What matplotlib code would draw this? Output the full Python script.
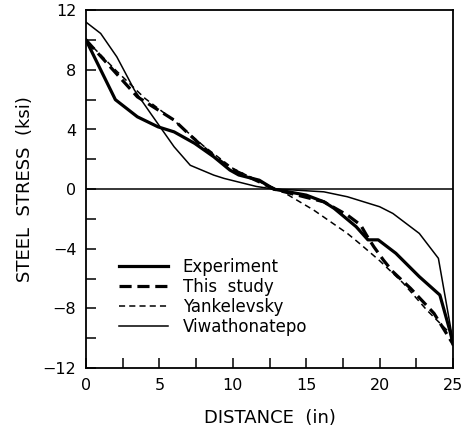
import matplotlib
matplotlib.use("Agg")
from matplotlib import pyplot as plt

# distance (in) / steel stress (ksi)
exp_x = [0, 2, 3.5, 4.9, 6, 7.4, 8.7, 9.8, 10.4, 11.8, 12.8, 15, 16.2, 16.9, 18.4, 19.2, 19.9, 21.1, 22.7, 24.1, 24.8, 25]
exp_y = [10, 6.0, 4.85, 4.18, 3.84, 3.07, 2.17, 1.28, 0.95, 0.6, 0.0, -0.4, -0.85, -1.29, -2.52, -3.4, -3.4, -4.3, -5.87, -7.1, -9.56, -10.4]

study_x = [0, 3.5, 6, 7, 8, 9, 10, 11, 12, 12.8, 14, 15, 16.2, 17.8, 18.7, 19.1, 19.6, 20.25, 20.9, 22.1, 23.7, 25]
study_y = [10, 6.19, 4.63, 3.7, 2.8, 2.0, 1.3, 0.85, 0.4, 0.0, -0.3, -0.55, -0.85, -1.74, -2.4, -3.08, -3.86, -4.75, -5.54, -6.65, -8.33, -10.4]

yank_x = [0, 2, 4, 6, 8, 10, 12, 13.2, 15.5, 17.8, 18.7, 20, 21.6, 23.2, 24.8, 25]
yank_y = [10, 8.0, 6.1, 4.6, 2.9, 1.4, 0.4, -0.06, -1.4, -2.97, -3.7, -4.8, -6.3, -8.1, -9.67, -10.4]

viw_x = [0, 1, 2.1, 3.3, 4.4, 6, 7.1, 8.7, 9.4, 11.6, 12.8, 14, 16.2, 17.8, 20, 20.9, 22.7, 24, 24.9, 25]
viw_y = [11.2, 10.44, 8.87, 6.64, 5.08, 2.84, 1.6, 0.94, 0.72, 0.18, 0.0, -0.05, -0.18, -0.51, -1.18, -1.63, -2.97, -4.64, -9.67, -10.4]

fig = plt.figure(figsize=(4.7, 4.44), dpi=100)
ax = fig.add_axes([0.183, 0.171, 0.781, 0.806])

ax.axhline(0, color='k', lw=1.1)
ax.plot(exp_x, exp_y, 'k-', lw=2.3, label='Experiment')
ax.plot(study_x, study_y, 'k', lw=2.3, dashes=(3.8, 1.8), label='This  study')
ax.plot(yank_x, yank_y, 'k', lw=1.1, dashes=(4, 2.7), label='Yankelevsky')
ax.plot(viw_x, viw_y, 'k-', lw=1.1, label='Viwathonatepo')

ax.set_xlim(0, 25)
ax.set_ylim(-12, 12)
ax.set_xticks([0, 5, 10, 15, 20, 25])
ax.set_xticks([2.5, 7.5, 12.5, 17.5, 22.5], minor=True)
ax.set_yticks([-12, -8, -4, 0, 4, 8, 12])
ax.set_yticklabels(['\u221212', '\u22128', '\u22124', '0', '4', '8', '12'])
ax.set_yticks([-10, -6, -2, 2, 6, 10], minor=True)
ax.tick_params(which='both', direction='in', length=7, width=1.1, labelsize=11.5, pad=7)
for s in ax.spines.values():
    s.set_linewidth(1.3)

ax.set_xlabel('DISTANCE  (in)', fontsize=13, labelpad=12)
ax.set_ylabel('STEEL  STRESS  (ksi)', fontsize=13, labelpad=6)

ax.legend(loc='lower left', bbox_to_anchor=(0.05, 0.047), frameon=False,
          fontsize=12, handlelength=2.9, handletextpad=0.9, labelspacing=0.12)

fig.savefig('out.png', dpi=100)
